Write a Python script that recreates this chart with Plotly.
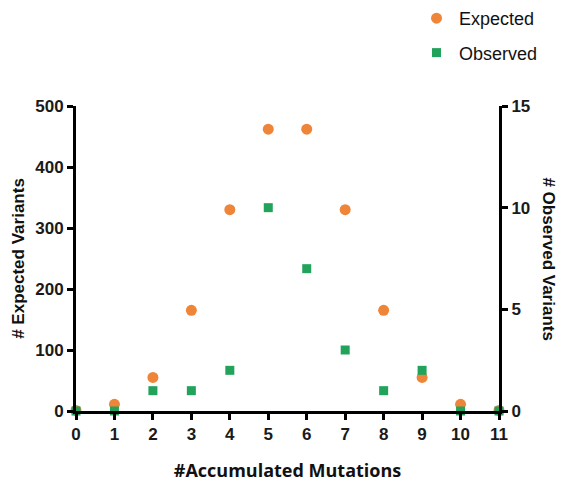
import plotly.graph_objects as go

mutations = list(range(12))
expected = [1, 11, 55, 165, 330, 462, 462, 330, 165, 55, 11, 1]
observed = [0, 0, 1, 1, 2, 10, 7, 3, 1, 2, 0, 0]
x_ticks = list(range(12))
y_left_ticks = [0, 100, 200, 300, 400, 500]
y_right_ticks = [0, 5, 10, 15]

ORANGE = "#EE8538"
GREEN = "#22A35B"
FONT = "Liberation Sans, Arial, sans-serif"

fig = go.Figure()
fig.add_trace(go.Scatter(
    x=mutations, y=expected, mode="markers", name="Expected",
    marker=dict(symbol="circle", size=11, color=ORANGE),
    cliponaxis=False, yaxis="y", legendgroup="a",
))
fig.add_trace(go.Scatter(
    x=mutations, y=observed, mode="markers", name="Observed",
    marker=dict(symbol="square", size=9, color=GREEN),
    cliponaxis=False, yaxis="y2", legendgroup="b",
))

axis_common = dict(
    showgrid=False, zeroline=False, showline=True, linecolor="black",
    linewidth=3, ticks="outside", ticklen=6, tickwidth=2.5, tickcolor="black",
    automargin=False,
    tickfont=dict(family=FONT, size=17, color="#1a1a1a", weight="bold"),
)

fig.update_layout(
    width=561, height=482,
    margin=dict(l=76, r=62, t=106, b=71, autoexpand=False),
    paper_bgcolor="white", plot_bgcolor="white",
    font=dict(family=FONT, color="black"),
    xaxis=dict(range=[0, 11], tickvals=x_ticks, ticktext=[str(v) for v in x_ticks],
               title=dict(text="#Accumulated Mutations", standoff=25,
                          font=dict(family="Open Sans, sans-serif", size=18, weight="bold", color="#111")),
               **axis_common),
    yaxis=dict(range=[0, 500], tickvals=y_left_ticks,
               title=dict(text="# Expected Variants", standoff=7,
                          font=dict(family=FONT, size=17, weight="bold", color="#111")),
               **axis_common),
    yaxis2=dict(range=[0, 15], tickvals=y_right_ticks, overlaying="y", side="right",
                **axis_common),
    showlegend=True,
    legend=dict(xref="container", yref="container", x=0.738, y=1.0,
                xanchor="left", yanchor="top",
                font=dict(family=FONT, size=18, color="#111"),
                tracegroupgap=8, traceorder="grouped", itemwidth=35,
                bgcolor="rgba(0,0,0,0)"),
    annotations=[dict(
        text="# Observed Variants", textangle=90, xref="paper", yref="paper",
        x=1.116, y=0.5, xanchor="center", yanchor="middle", showarrow=False,
        font=dict(family=FONT, size=17, weight="bold", color="#111"),
    )],
)

fig.write_html("out.html", config={"displayModeBar": False},
               post_script="document.body.style.margin='0';")
